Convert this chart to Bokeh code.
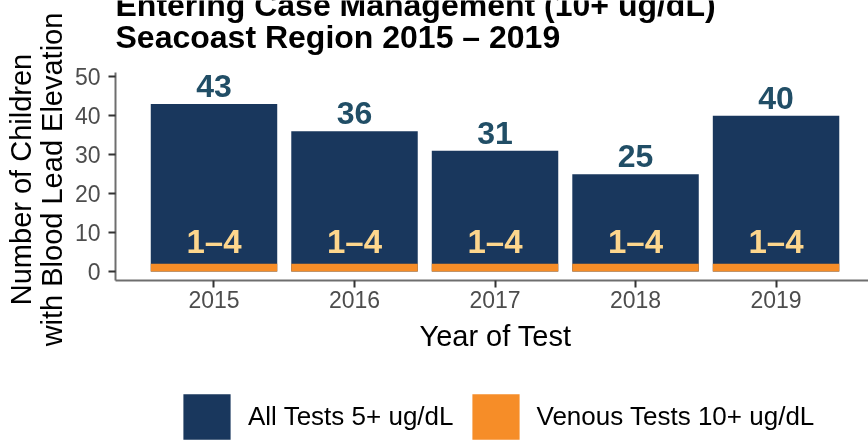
from math import pi
from bokeh.plotting import figure
from bokeh.models import (Range1d, FixedTicker, Label, Legend, LegendItem,
                          ColumnDataSource)
from bokeh.embed import file_html
from bokeh.resources import INLINE
from bokeh.core.properties import value

# ---- data ----
years = ["2015", "2016", "2017", "2018", "2019"]
all_tests = [43, 36, 31, 25, 40]
all_labels = ["43", "36", "31", "25", "40"]
venous = [2, 2, 2, 2, 2]
venous_labels = ["1–4", "1–4", "1–4", "1–4", "1–4"]
y_ticks = [0, 10, 20, 30, 40, 50]

title_lines = ["Entering Case Management (10+ ug/dL)", "Seacoast Region 2015 – 2019"]
y_title_lines = ["Number of Children", "with Blood Lead Elevation"]
x_title = "Year of Test"
legend_labels = ["All Tests 5+ ug/dL", "Venous Tests 10+ ug/dL"]

# ---- styles ----
FONT = "Liberation Sans"
NAVY = "#19375D"
ORANGE = "#F68D28"
VAL_COLOR = "#214E66"
VEN_COLOR = "#FDD68D"
TICK_TEXT = "#4D4D4D"
W, H = 868, 443

xpos = list(range(1, len(years) + 1))
src = ColumnDataSource(dict(x=xpos, all=all_tests, all_lab=all_labels,
                            ven=venous, ven_lab=venous_labels))

# ---------------- main chart ----------------
p = figure(width=W, height=H,
           x_range=Range1d(0.299, 5.658), y_range=Range1d(-2.3, 51.1),
           output_backend="svg", toolbar_location=None, title=None,
           min_border_left=115, min_border_right=0,
           min_border_top=72, min_border_bottom=163)
p.styles = {"position": "fixed", "top": "0px", "left": "0px"}
p.outline_line_color = None
p.xgrid.visible = False
p.ygrid.visible = False

r_all = p.vbar(x="x", top="all", bottom=0, width=0.9, source=src,
               fill_color=NAVY, line_color=None)
r_ven = p.vbar(x="x", top="ven", bottom=0, width=0.9, source=src,
               fill_color=ORANGE, line_color=None)

p.text(x="x", y="all", text="all_lab", source=src, text_font=value(FONT),
       text_font_style="bold", text_font_size="32px", text_color=VAL_COLOR,
       text_align="center", text_baseline="middle", y_offset=-18)
p.text(x="x", y="ven", text="ven_lab", source=src, text_font=value(FONT),
       text_font_style="bold", text_font_size="33px", text_color=VEN_COLOR,
       text_align="center", text_baseline="middle", y_offset=-22.5)

for ax in (p.xaxis[0], p.yaxis[0]):
    ax.axis_line_color = "#6E6E6E"
    ax.axis_line_width = 2
    ax.major_tick_line_color = "#333333"
    ax.major_tick_line_width = 2
    ax.major_tick_out = 7
    ax.major_tick_in = 0
    ax.minor_tick_line_color = None
    ax.major_label_text_font = FONT
    ax.major_label_text_font_size = "23px"
    ax.major_label_text_color = TICK_TEXT

p.xaxis.ticker = FixedTicker(ticks=xpos)
p.xaxis.major_label_overrides = {x: y for x, y in zip(xpos, years)}
p.xaxis.major_label_standoff = 3
p.yaxis.ticker = FixedTicker(ticks=y_ticks)
p.yaxis.major_label_standoff = 8

# ---------------- transparent overlay for titles and legend ----------------
o = figure(width=W, height=H, x_range=Range1d(0, W), y_range=Range1d(0, H),
           x_axis_type=None, y_axis_type=None, output_backend="svg",
           toolbar_location=None, title=None, min_border=0,
           min_border_left=0, min_border_right=0, min_border_top=0,
           min_border_bottom=0)
o.styles = {"position": "fixed", "top": "0px", "left": "0px",
            "pointer-events": "none"}
o.outline_line_color = None
o.background_fill_alpha = 0
o.border_fill_alpha = 0

# titles (screen px from bottom-left of the canvas)
for txt, yy in zip(title_lines, [H - 4, H - 36]):
    o.add_layout(Label(x=115, y=yy, x_units="screen", y_units="screen", text=txt,
                       text_font=FONT, text_font_style="bold",
                       text_font_size="32px", text_color="black",
                       text_align="left", text_baseline="middle"))

for txt, xx in zip(y_title_lines, [20.5, 51]):
    o.add_layout(Label(x=xx, y=H - 179, x_units="screen", y_units="screen",
                       text=txt, angle=pi / 2, text_font=FONT,
                       text_font_size="29px", text_color="black",
                       text_align="center", text_baseline="middle"))

o.add_layout(Label(x=495, y=H - 335, x_units="screen", y_units="screen",
                   text=x_title, text_font=FONT, text_font_size="29px",
                   text_color="black", text_align="center",
                   text_baseline="middle"))

# legend proxies (hidden) so the legend can live on the overlay
l_all = o.vbar(x=[0], top=[0], width=0, fill_color=NAVY, line_color=None,
               visible=False)
l_ven = o.vbar(x=[0], top=[0], width=0, fill_color=ORANGE, line_color=None,
               visible=False)
legend = Legend(items=[LegendItem(label=legend_labels[0], renderers=[l_all]),
                       LegendItem(label=legend_labels[1], renderers=[l_ven])],
                orientation="horizontal", location=(177, -2),
                glyph_width=59, glyph_height=57, label_standoff=12, spacing=12,
                padding=0, margin=0, border_line_color=None,
                background_fill_alpha=0, inactive_fill_alpha=0,
                label_text_font=FONT, label_text_font_size="26px",
                label_text_color="black", label_text_baseline="middle")
o.add_layout(legend)

open("out.html", "w").write(file_html([p, o], INLINE))
